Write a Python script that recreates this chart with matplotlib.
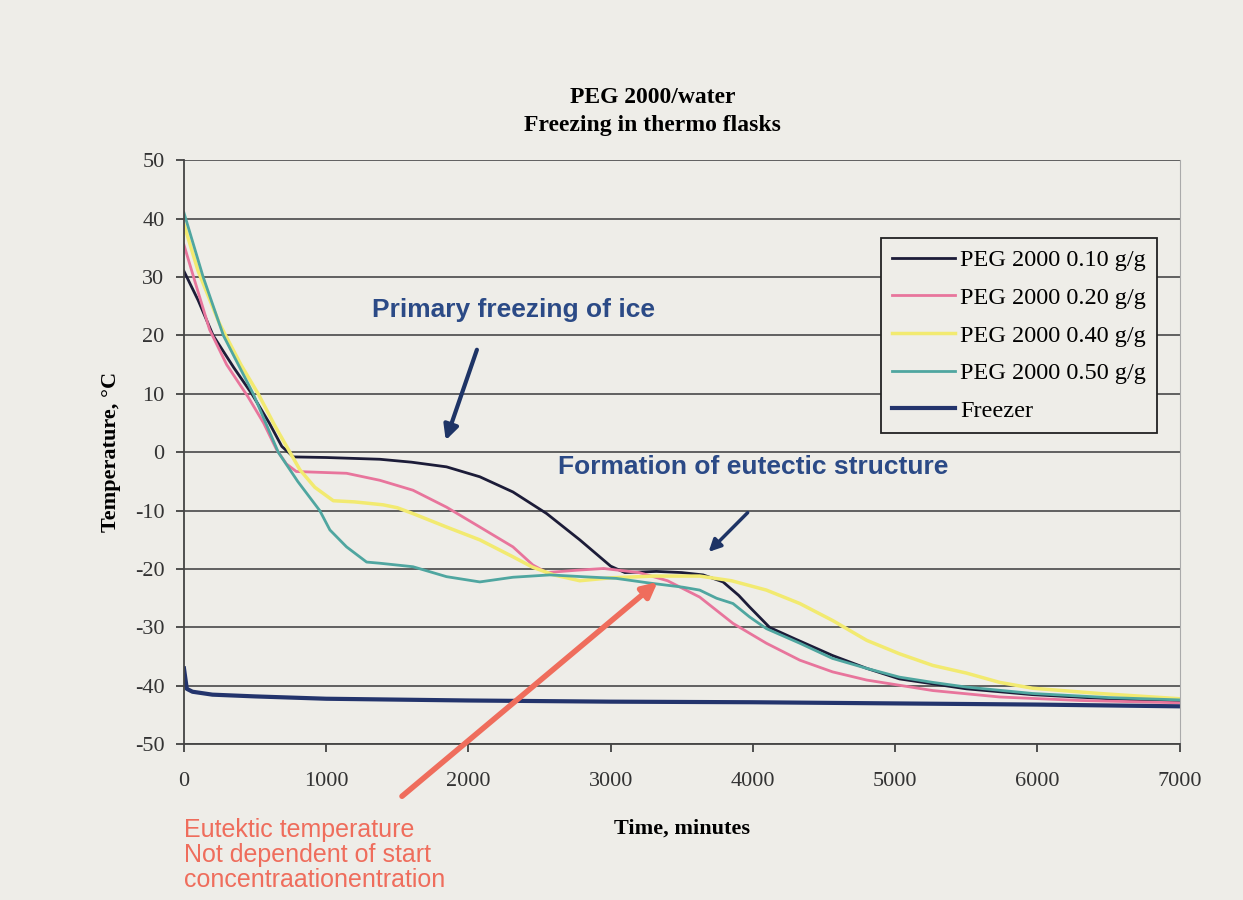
import matplotlib.pyplot as plt

plt.rcParams["axes.unicode_minus"] = False

# time (minutes) and temperature (degC)
t_010 = [0, 100, 205, 350, 477, 600, 688, 770, 1000, 1377, 1600, 1846, 2080, 2313, 2550, 2783,
         3000, 3100, 3322, 3500, 3650, 3790, 3900, 3977, 4118, 4300, 4560, 4800, 5030, 5500,
         5966, 6500, 7000]
T_010 = [31, 26, 20, 14.5, 10, 5, 1, -0.8, -0.9, -1.2, -1.7, -2.5, -4.2, -6.8, -10.5, -15,
         -19.5, -20.6, -20.4, -20.6, -21, -22.2, -24.5, -26.5, -30, -32, -34.8, -37, -38.8, -40.5,
         -41.5, -42.2, -42.7]

t_020 = [0, 80, 180, 300, 450, 560, 650, 720, 790, 1143, 1377, 1610, 1846, 2080, 2313, 2453,
         2550, 2760, 2950, 3200, 3400, 3626, 3860, 4095, 4330, 4560, 4800, 5265, 5735, 6300, 7000]
T_020 = [35.5, 29, 21, 15, 9.5, 5, 0.5, -2, -3.3, -3.6, -4.8, -6.5, -9.4, -12.8, -16.2, -19.3,
         -20.6, -20.2, -19.9, -20.6, -22, -24.8, -29.3, -32.7, -35.6, -37.6, -39, -40.8, -41.9,
         -42.5, -42.9]

t_040 = [0, 100, 250, 400, 522, 640, 745, 815, 920, 1050, 1200, 1400, 1500, 1610, 1846, 2080,
         2313, 2453, 2600, 2783, 3000, 3300, 3626, 3850, 4095, 4330, 4560, 4800, 5030, 5265,
         5500, 5735, 5966, 6435, 7000]
T_040 = [39, 31, 22, 15, 10, 4.5, 0, -3, -6, -8.3, -8.5, -9, -9.5, -10.5, -12.8, -15,
         -17.9, -19.7, -21, -22, -21.5, -21.2, -21.2, -22, -23.6, -25.9, -28.8, -32.2, -34.5, -36.5,
         -37.8, -39.4, -40.4, -41.3, -42.2]

t_050 = [0, 135, 277, 487, 663, 800, 955, 1026, 1143, 1284, 1377, 1610, 1846, 2080, 2313, 2572,
         2800, 3040, 3275, 3507, 3626, 3745, 3860, 3977, 4095, 4330, 4560, 4800, 5030, 5265,
         5500, 5966, 6500, 7000]
T_050 = [41, 30, 20, 10, 0, -5, -10, -13.3, -16.2, -18.8, -19, -19.6, -21.3, -22.2, -21.4, -21,
         -21.3, -21.6, -22.4, -23.1, -23.6, -25, -25.9, -28.2, -30.2, -32.7, -35.3, -37, -38.5, -39.4,
         -40.2, -41.3, -42, -42.4]

t_freezer = [0, 20, 60, 200, 500, 1000, 2000, 3000, 4000, 5000, 6000, 7000]
T_freezer = [-37, -40.5, -41, -41.5, -41.8, -42.2, -42.5, -42.7, -42.8, -43, -43.2, -43.5]

labels = ["PEG 2000 0.10 g/g", "PEG 2000 0.20 g/g", "PEG 2000 0.40 g/g",
          "PEG 2000 0.50 g/g", "Freezer"]

bg = "#eeede8"
serif = ["Liberation Serif", "DejaVu Serif"]
sans = ["Liberation Sans", "DejaVu Sans"]

fig = plt.figure(figsize=(12.43, 9), dpi=100, facecolor=bg)
ax = fig.add_axes([0.148, 0.173, 0.801, 0.649], facecolor=bg)

ax.plot(t_010, T_010, color="#1c1c38", lw=2, label=labels[0])
ax.plot(t_020, T_020, color="#e8759c", lw=2, label=labels[1])
ax.plot(t_040, T_040, color="#f2ea70", lw=2.5, label=labels[2])
ax.plot(t_050, T_050, color="#4fa6a0", lw=2, label=labels[3])
ax.plot(t_freezer, T_freezer, color="#23346c", lw=3, label=labels[4])

ax.set_xlim(0, 7000)
ax.set_ylim(-50, 50)
ax.set_xticks(range(0, 7001, 1000))
ax.set_yticks(range(-50, 51, 10))
ax.yaxis.grid(True, color="#555555", lw=1.3)
ax.set_axisbelow(True)
ax.spines["top"].set_visible(False)
ax.spines["right"].set_color("#aaaaaa")
ax.spines["left"].set_color("#444444")
ax.spines["bottom"].set_color("#444444")
ax.spines["left"].set_linewidth(1.3)
ax.spines["bottom"].set_linewidth(1.3)
ax.tick_params(direction="out", length=6, width=1.2, colors="#333333", labelsize=16)
ax.tick_params(axis="x", pad=14)
ax.tick_params(axis="y", pad=8)
for lab in ax.get_xticklabels() + ax.get_yticklabels():
    lab.set_family(serif)
    lab.set_color("#333333")

ax.set_xlabel("Time, minutes", family=serif, fontsize=16, fontweight="bold", labelpad=20)
ax.set_ylabel("Temperature, \u00b0C", family=serif, fontsize=16, fontweight="bold", labelpad=10)

fig.text(0.525, 0.892, "PEG 2000/water", ha="center", va="center",
         family=serif, fontsize=17, fontweight="bold")
fig.text(0.525, 0.861, "Freezing in thermo flasks", ha="center", va="center",
         family=serif, fontsize=17, fontweight="bold")

leg = ax.legend(loc="upper right", bbox_to_anchor=(0.977, 0.866), frameon=True,
                prop={"family": serif, "size": 17.5}, handlelength=2.6, labelspacing=0.64,
                borderpad=0.45, borderaxespad=0, handletextpad=0.2, fancybox=False)
leg.get_frame().set_edgecolor("#222222")
leg.get_frame().set_facecolor(bg)
leg.get_frame().set_alpha(1)
leg.get_frame().set_linewidth(1.3)

blue = "#2b4a86"
red = "#ef6d5c"
ax.text(1321, 24.3, "Primary freezing of ice", color=blue, family=sans,
        fontsize=19, fontweight="bold", va="center")
ax.annotate("", xy=(1834, 1.6), xytext=(2066, 18),
            arrowprops=dict(arrowstyle="-|>", color="#1e3466", lw=3, mutation_scale=22))
ax.text(2628, -2.6, "Formation of eutectic structure", color=blue, family=sans,
        fontsize=19, fontweight="bold", va="center")
ax.annotate("", xy=(3675, -17.4), xytext=(3977, -10),
            arrowprops=dict(arrowstyle="-|>", color="#1e3466", lw=2.5, mutation_scale=18))
ax.annotate("", xy=(3345, -21.9), xytext=(1518, -59.2), annotation_clip=False,
            arrowprops=dict(arrowstyle="-|>", color=red, lw=4, mutation_scale=22))

fig.text(0.148, 0.05, "Eutektic temperature\nNot dependent of start\nconcentraationentration",
         color=red, family=sans, fontsize=18, va="center", ha="left", linespacing=1.05)

fig.savefig("out.png", dpi=100, facecolor=bg)
